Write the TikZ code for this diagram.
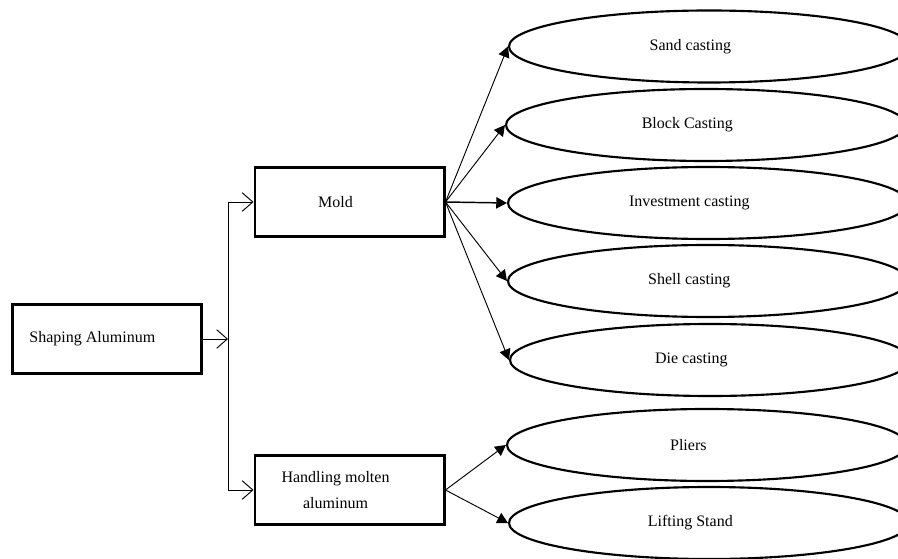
\documentclass[tikz,border=0pt]{standalone}
\usepackage{fontspec}
\setmainfont{Liberation Serif}
\usetikzlibrary{shapes.geometric,arrows.meta}

\begin{document}
\begin{tikzpicture}[x=0.75pt,y=-0.75pt,font=\fontsize{12}{19.5}\selectfont,
  box/.style={draw,line width=2pt,minimum width=142pt,minimum height=52pt,inner sep=0pt},
  oval/.style={draw,ellipse,line width=1.6pt,minimum width=300pt,minimum height=54pt,inner sep=0pt},
  btxt/.style={label={[xshift=-10.5pt,align=center]center:#1}},
  otxt/.style={label={[xshift=-14pt]center:#1}},
  opn/.style={-{Straight Barb[length=8pt,width=14pt]},line width=0.7pt},
  arr/.style={-{Triangle[length=8pt,width=8.5pt]},line width=0.7pt}]
  \useasboundingbox (0,0) rectangle (898,559);
  % left side
  \node[box,label={[xshift=-11pt]center:Shaping Aluminum}](shape) at (107,339){};
  \node[box,btxt=Mold](mold) at (349.5,202){};
  \node[box,btxt={Handling molten\\aluminum}](hand) at (349.5,490){};
  \coordinate (split) at (228,339);
  \draw[opn](shape)--(split);\draw[opn](split)|-(mold);\draw[opn](split)|-(hand);
  % ovals
  \node[oval,otxt=Sand casting](sand) at (709,46.5){};
  \node[oval,otxt=Block Casting](block) at (706,125){};
  \node[oval,otxt=Investment casting](invest) at (708,203){};
  \node[oval,otxt=Shell casting](shell) at (708,281){};
  \node[oval,otxt=Die casting](die) at (710,360){};
  \node[oval,otxt=Pliers](pliers) at (707,445){};
  \node[oval,otxt=Lifting Stand](lift) at (709,523){};
  \draw[arr](mold.east)--(sand.west);\draw[arr](mold.east)--(block.west);\draw[arr,line width=1.1pt](mold.east)--(invest.west);
  \draw[arr](mold.east)--(shell.west);\draw[arr](mold.east)--(die.west);
  \draw[arr](hand.east)--(pliers.west);\draw[arr](hand.east)--(lift.west);
\end{tikzpicture}
\end{document}
